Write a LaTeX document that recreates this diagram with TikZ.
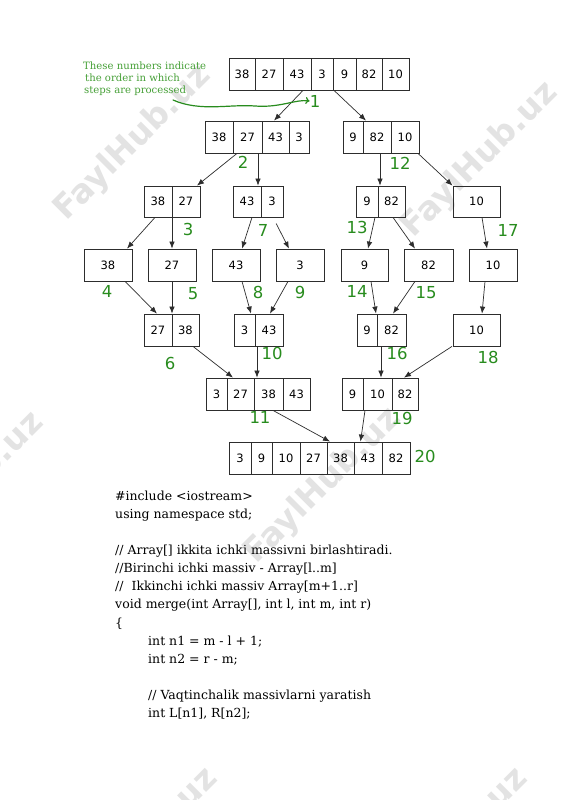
\documentclass[tikz,border=0pt]{standalone}
\usepackage{fontspec}
\setmainfont{DejaVu Serif}
\newfontfamily\boxfont{DejaVu Sans}
\usetikzlibrary{arrows.meta}
\definecolor{stepgreen}{RGB}{40,140,30}
\definecolor{notegreen}{RGB}{70,160,55}
\definecolor{boxline}{RGB}{45,45,45}
\tikzset{
  cellbox/.style={draw=boxline, line width=0.8pt, inner sep=0pt, font=\boxfont\fontsize{11.5}{13}\selectfont},
  arr/.style={draw=boxline, line width=0.7pt, -{Latex[length=7pt,width=5.5pt]}},
  steplab/.style={text=stepgreen, font=\boxfont\fontsize{16.5}{19}\selectfont, inner sep=0pt},
  noteline/.style={anchor=base west, inner sep=0pt, text=notegreen, font=\fontsize{10.1}{12}\selectfont},
  codeline/.style={anchor=base west, inner sep=0pt, font=\fontsize{12.5}{15}\selectfont},
  wmark/.style={text=black!11, rotate=45, inner sep=0pt, font=\boxfont\bfseries\fontsize{33}{36}\selectfont},
}
\newcommand\cellat[6]{\node[cellbox, minimum width={#3-#2}, minimum height={#5-#4}] (#1) at ({(#2+#3)/2},{(#4+#5)/2}) {#6};}
\begin{document}
\begin{tikzpicture}[x=1pt,y=-1pt]
\fill[white] (0,0) rectangle (565,800);
\useasboundingbox (0,0) rectangle (565,800);
% watermarks
\node[wmark] (wm1) at (133,143) {FaylHub.uz};
\node[wmark] (wm2) at (480,160) {FaylHub.uz};
\node[wmark] (wm3) at (323,486) {FaylHub.uz};
\node[wmark] (wm4) at (-34,490) {FaylHub.uz};
\node[wmark] (wm5) at (140,846) {FaylHub.uz};
\node[wmark] (wm6) at (450,846) {FaylHub.uz};
% level 0
\cellat{A0c1}{229}{255}{58}{90}{38}
\cellat{A0c2}{255}{283}{58}{90}{27}
\cellat{A0c3}{283}{311}{58}{90}{43}
\cellat{A0c4}{311}{333}{58}{90}{3}
\cellat{A0c5}{333}{356}{58}{90}{9}
\cellat{A0c6}{356}{382}{58}{90}{82}
\cellat{A0c7}{382}{409}{58}{90}{10}
% level 1
\cellat{A1c1}{205}{233}{121}{153}{38}
\cellat{A1c2}{233}{262}{121}{153}{27}
\cellat{A1c3}{262}{289}{121}{153}{43}
\cellat{A1c4}{289}{309}{121}{153}{3}
\cellat{A2c1}{343}{363}{121}{153}{9}
\cellat{A2c2}{363}{391}{121}{153}{82}
\cellat{A2c3}{391}{419}{121}{153}{10}
% level 2
\cellat{A3c1}{144}{172}{186}{217}{38}
\cellat{A3c2}{172}{200}{186}{217}{27}
\cellat{A4c1}{233}{261}{186}{217}{43}
\cellat{A4c2}{261}{283}{186}{217}{3}
\cellat{A5c1}{356}{378}{186}{217}{9}
\cellat{A5c2}{378}{405}{186}{217}{82}
\cellat{A6c1}{453}{500}{186}{217}{10}
% level 3
\cellat{A7}{84}{132}{249}{281}{38}
\cellat{A8}{148}{196}{249}{281}{27}
\cellat{A9}{212}{260}{249}{281}{43}
\cellat{A10}{276}{324}{249}{281}{3}
\cellat{A11}{341}{388}{249}{281}{9}
\cellat{A12}{404}{453}{249}{281}{82}
\cellat{A13}{469}{517}{249}{281}{10}
% level 4
\cellat{A14c1}{144}{172}{314}{346}{27}
\cellat{A14c2}{172}{199}{314}{346}{38}
\cellat{A15c1}{234}{255}{314}{346}{3}
\cellat{A15c2}{255}{283}{314}{346}{43}
\cellat{A16c1}{357}{377}{314}{346}{9}
\cellat{A16c2}{377}{406}{314}{346}{82}
\cellat{A17}{453}{500}{314}{346}{10}
% level 5
\cellat{A18c1}{206}{227}{378}{410}{3}
\cellat{A18c2}{227}{254}{378}{410}{27}
\cellat{A18c3}{254}{283}{378}{410}{38}
\cellat{A18c4}{283}{310}{378}{410}{43}
\cellat{A19c1}{342}{363}{378}{410}{9}
\cellat{A19c2}{363}{392}{378}{410}{10}
\cellat{A19c3}{392}{418}{378}{410}{82}
% level 6
\cellat{A20c1}{229}{251}{442}{474}{3}
\cellat{A20c2}{251}{272}{442}{474}{9}
\cellat{A20c3}{272}{300}{442}{474}{10}
\cellat{A20c4}{300}{327}{442}{474}{27}
\cellat{A20c5}{327}{354}{442}{474}{38}
\cellat{A20c6}{354}{382}{442}{474}{43}
\cellat{A20c7}{382}{410}{442}{474}{82}
% arrows
\draw[arr] ([xshift=6pt]A0c3.south) -- ([xshift=-1.5pt]A1c3.north);
\draw[arr] ([xshift=-10.5pt]A0c5.south) -- ([xshift=-11pt]A2c2.north);
\draw[arr] ([xshift=-10.5pt]A1c2.south) -- ([xshift=11pt]A3c2.north);
\draw[arr] ([xshift=10.5pt]A1c2.south) -- ([xshift=11pt]A4c1.north);
\draw[arr] ([xshift=3pt]A2c2.south) -- ([xshift=-11.5pt]A5c2.north);
\draw[arr] ([xshift=13pt]A2c3.south) -- ([xshift=-24pt]A6c1.north);
\draw[arr] ([xshift=-3pt]A3c1.south) -- ([xshift=19pt]A7.north);
\draw[arr] ([xshift=-14pt]A3c2.south) -- (A8.north);
\draw[arr] ([xshift=5pt]A4c1.south) -- ([xshift=6pt]A9.north);
\draw[arr, shorten <=7pt] ([xshift=1pt]A4c2.south) -- ([xshift=-11pt]A10.north);
\draw[arr] ([xshift=8pt]A5c1.south) -- ([xshift=3.5pt]A11.north);
\draw[arr] ([xshift=1.5pt]A5c2.south) -- ([xshift=-13.5pt]A12.north);
\draw[arr] ([xshift=5.5pt]A6c1.south) -- ([xshift=-6pt]A13.north);
\draw[arr] ([xshift=17pt]A7.south) -- ([xshift=-1pt]A14c1.north);
\draw[arr] (A8.south) -- ([xshift=-13.5pt]A14c2.north);
\draw[arr] ([xshift=6pt]A9.south) -- ([xshift=6.5pt]A15c1.north);
\draw[arr] ([xshift=-12pt]A10.south) -- ([xshift=1pt]A15c2.north);
\draw[arr] ([xshift=6.5pt]A11.south) -- ([xshift=9pt]A16c1.north);
\draw[arr] ([xshift=-13.5pt]A12.south) -- ([xshift=1.5pt]A16c2.north);
\draw[arr] ([xshift=-8pt]A13.south) -- ([xshift=5.5pt]A17.north);
\draw[arr] ([xshift=7.5pt]A14c2.south) -- ([xshift=-7.5pt]A18c2.north);
\draw[arr] ([xshift=-12pt]A15c2.south) -- ([xshift=-11.5pt]A18c3.north);
\draw[arr] ([xshift=-10.5pt]A16c2.south) -- ([xshift=3.5pt]A19c2.north);
\draw[arr] ([xshift=-24.5pt]A17.south) -- ([xshift=-1pt]A19c3.north);
\draw[arr] ([xshift=4.5pt]A18c3.south) -- ([xshift=-10.5pt]A20c5.north);
\draw[arr] ([xshift=-12.5pt]A19c2.south) -- ([xshift=-7.5pt]A20c6.north);
% step labels
\node[steplab] (l1) at (315,101) {1};
\node[steplab] (l2) at (243,162) {2};
\node[steplab] (l12) at (400,163) {12};
\node[steplab] (l3) at (188,229) {3};
\node[steplab] (l7) at (263,230) {7};
\node[steplab] (l13) at (357,227) {13};
\node[steplab] (l17) at (508,230) {17};
\node[steplab] (l4) at (107,291) {4};
\node[steplab] (l5) at (193,294) {5};
\node[steplab] (l8) at (258,292) {8};
\node[steplab] (l9) at (300,292) {9};
\node[steplab] (l14) at (357,291) {14};
\node[steplab] (l15) at (426,293) {15};
\node[steplab] (l6) at (170,363) {6};
\node[steplab] (l10) at (272,353) {10};
\node[steplab] (l16) at (397,353) {16};
\node[steplab] (l18) at (488,357) {18};
\node[steplab] (l11) at (260,417) {11};
\node[steplab] (l19) at (402,418) {19};
\node[steplab] (l20) at (425,456) {20};
% note
\node[noteline] (n1) at (83,70) {These numbers indicate};
\node[noteline] (n2) at (85,81.5) {the order in which};
\node[noteline] (n3) at (84,93) {steps are processed};
\coordinate (cs) at (173,100);
\draw[draw=stepgreen, line width=1.2pt, line cap=round, -{To[length=4pt,width=7pt]}]
  (cs) .. controls (200,112) and (230,104) .. (255,106) .. controls (280,108) and (296,99) .. (l1.west);
% code
\node[codeline] (c1) at (115,500) {\#include <iostream>};
\node[codeline] (c2) at (115,518) {using namespace std;};
\node[codeline] (c3) at (115,554) {// Array[] ikkita ichki massivni birlashtiradi.};
\node[codeline] (c4) at (115,572) {//Birinchi ichki massiv - Array[l..m]};
\node[codeline] (c5) at (115,590) {//\ \ Ikkinchi ichki massiv Array[m+1..r]};
\node[codeline] (c6) at (115,608) {void merge(int Array[], int l, int m, int r)};
\node[codeline] (c7) at (115,627) {\{};
\node[codeline] (c8) at (148,645) {int n1 = m - l + 1;};
\node[codeline] (c9) at (148,663) {int n2 = r - m;};
\node[codeline] (c10) at (148,699) {// Vaqtinchalik massivlarni yaratish};
\node[codeline] (c11) at (148,717) {int L[n1], R[n2];};
\end{tikzpicture}
\end{document}
